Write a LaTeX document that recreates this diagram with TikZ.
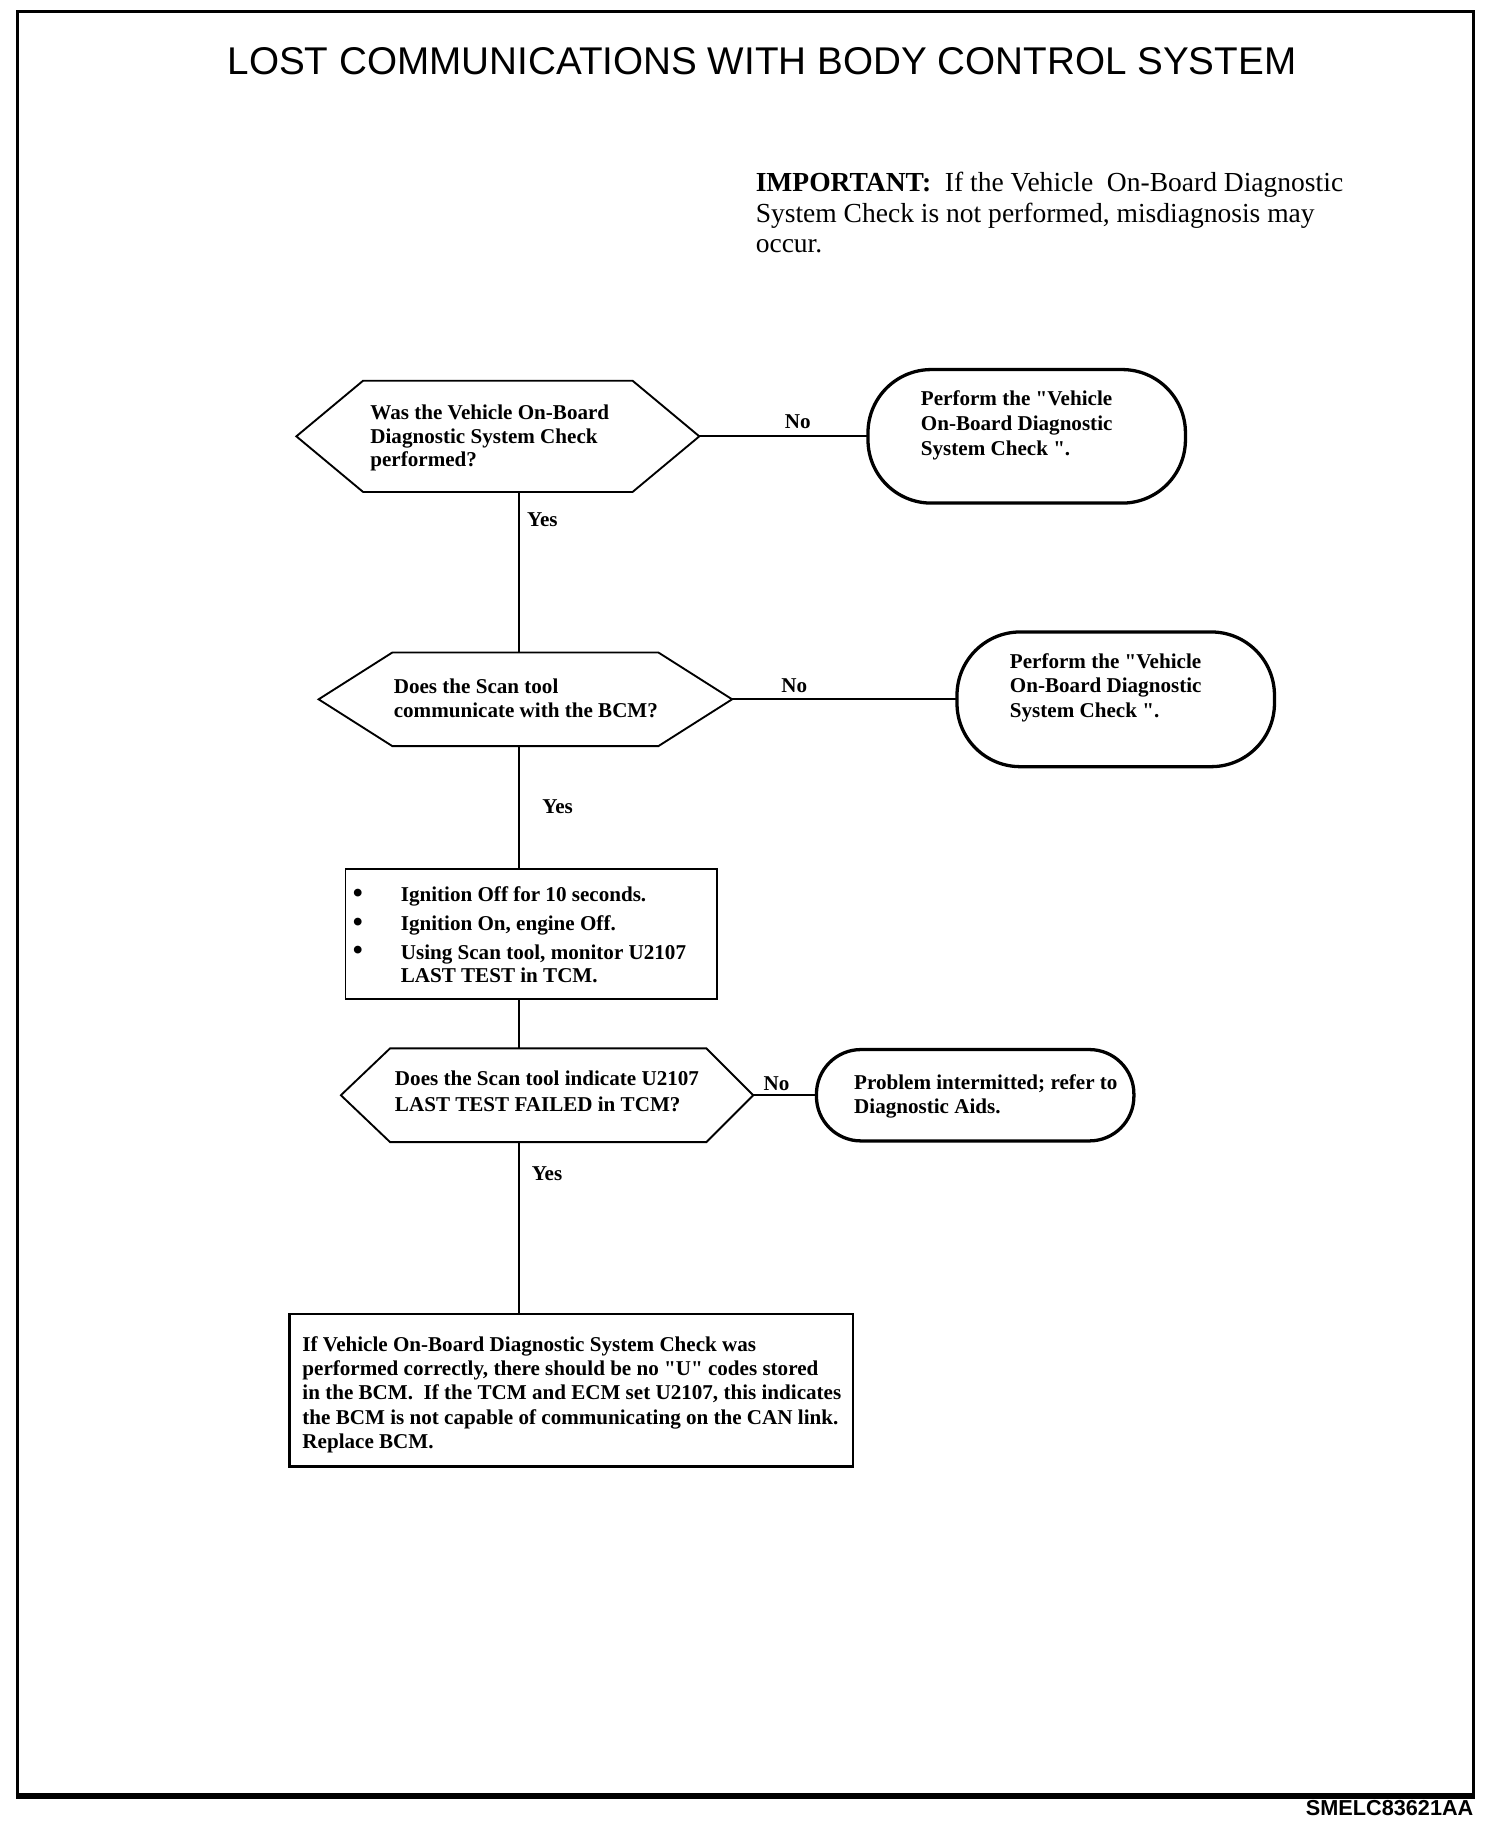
\documentclass[tikz,border=0pt]{standalone}
\usepackage{fontspec}
\setmainfont{Liberation Serif}[Ligatures=TeXOff]
\newfontfamily\arialfont{Liberation Sans}[Ligatures=TeXOff]
\newcommand{\diagfont}{\fontsize{18}{20}\selectfont\bfseries}
\newcommand{\bigbul}{\raisebox{-0.5pt}{\scalebox{1.35}{\textbullet}}}
\begin{document}
\begin{tikzpicture}[x=1pt,y=-1pt,
  hexbox/.style={draw=none, inner sep=0pt, outer sep=0pt},
  hexline/.style={line width=1.6pt, line join=miter},
  termbox/.style={draw, line width=2.8pt, inner sep=0pt, outer sep=0pt},
  procbox/.style={draw, line width=1.6pt, inner sep=0pt, outer sep=0pt},
  conn/.style={line width=1.6pt},
  txt/.style={anchor=north west, inner sep=0pt, align=left, font=\diagfont},
  lbl/.style={anchor=center, inner sep=0pt, font=\diagfont}]
\useasboundingbox (0,0) rectangle (1284,1567.4);
% frame
\draw[line width=3pt] (15,10) rectangle (1258,1533);
\draw[line width=5pt] (13.5,1533) -- (1259.5,1533);
% title and notes
\node[anchor=base, inner sep=0pt, font=\arialfont\fontsize{33}{36}\selectfont] (title) at (650.5,64) {LOST COMMUNICATIONS WITH BODY CONTROL SYSTEM};
\node[anchor=north west, inner sep=0pt, align=left, font=\fontsize{23.5}{26}\selectfont] (important) at (645,147)
  {\textbf{IMPORTANT:}\ \ If the Vehicle\ \ On-Board Diagnostic\\System Check is not performed, misdiagnosis may\\occur.};
\node[anchor=base east, inner sep=0pt, font=\arialfont\bfseries\fontsize{18.5}{20}\selectfont] (code) at (1258,1549.5) {SMELC83621AA};
% spine
\coordinate (spine) at (443,0);
% decision 1
\node[hexbox, minimum width=344pt, minimum height=95pt] (d1) at (425,372.5) {};
\draw[hexline] (d1.west) -- ([xshift=57pt]d1.north west) -- ([xshift=-57pt]d1.north east) -- (d1.east) -- ([xshift=-57pt]d1.south east) -- ([xshift=57pt]d1.south west) -- cycle;
\node[txt] (d1t) at (316,345.6) {Was the Vehicle On-Board\\Diagnostic System Check\\performed?};
\node[termbox, rounded corners=54pt, minimum width=271pt, minimum height=114pt] (t1) at (876.5,372.5) {};
\node[txt, font=\diagfont\fontsize{18}{21}\selectfont] (t1t) at (786,333.6) {Perform the "Vehicle\\On-Board Diagnostic\\System Check ".};
\draw[conn] (d1.east) -- (t1.west);
\node[lbl] (no1) at (681,360) {No};
% decision 2
\node[hexbox, minimum width=353pt, minimum height=80pt] (d2) at (448.5,597) {};
\draw[hexline] (d2.west) -- ([xshift=63pt]d2.north west) -- ([xshift=-63pt]d2.north east) -- (d2.east) -- ([xshift=-63pt]d2.south east) -- ([xshift=63pt]d2.south west) -- cycle;
\node[txt] (d2t) at (336,579.6) {Does the Scan tool\\communicate with the BCM?};
\node[termbox, rounded corners=54pt, minimum width=271pt, minimum height=115pt] (t2) at (952.5,597) {};
\node[txt, font=\diagfont\fontsize{18}{21}\selectfont] (t2t) at (862,557.6) {Perform the "Vehicle\\On-Board Diagnostic\\System Check ".};
\draw[conn] (d2.east) -- (t2.west);
\node[lbl] (no2) at (678,585) {No};
\draw[conn] (d1.south -| spine) -- (d2.north -| spine);
\node[lbl] (yes1) at (463,444) {Yes};
% process box 1
\node[procbox, minimum width=317pt, minimum height=111pt] (b1) at (453.5,797.5) {};
\node[anchor=north west, inner sep=0pt, font=\diagfont] (b1t) at (301,755.6)
  {\renewcommand{\arraystretch}{1}\setlength{\tabcolsep}{0pt}%
   \begin{tabular}{@{}p{41pt}l@{}}
   \bigbul & Ignition Off for 10 seconds.\\[4.5pt]
   \bigbul & Ignition On, engine Off.\\[4.5pt]
   \bigbul & Using Scan tool, monitor U2107\\
               & LAST TEST in TCM.
   \end{tabular}};
\draw[conn] (d2.south -| spine) -- (b1.north -| spine);
\node[lbl] (yes2) at (476,689) {Yes};
% decision 3
\node[hexbox, minimum width=352pt, minimum height=80pt] (d3) at (467,935) {};
\draw[hexline] (d3.west) -- ([xshift=42pt]d3.north west) -- ([xshift=-40pt]d3.north east) -- (d3.east) -- ([xshift=-40pt]d3.south east) -- ([xshift=42pt]d3.south west) -- cycle;
\node[txt, font=\diagfont\fontsize{18}{23}\selectfont] (d3t) at (337,913.6) {Does the Scan tool indicate U2107\\LAST TEST FAILED in TCM?};
\draw[conn] (b1.south -| spine) -- (d3.north -| spine);
\node[termbox, rounded corners=38pt, minimum width=271pt, minimum height=78pt] (t3) at (832.5,935) {};
\node[txt] (t3t) at (729,917.6) {Problem intermitted; refer to\\Diagnostic Aids.};
\draw[conn] (d3.east) -- (t3.west);
\node[lbl] (no3) at (663,925) {No};
% process box 2
\node[procbox, line width=2pt, minimum width=481pt, minimum height=130pt] (b2) at (487.5,1187) {};
\node[txt, font=\diagfont\fontsize{18}{20.75}\selectfont] (b2t) at (258,1140.6)
  {If Vehicle On-Board Diagnostic System Check was\\performed correctly, there should be no "U" codes stored\\in the BCM.\ \ If the TCM and ECM set U2107, this indicates\\the BCM is not capable of communicating on the CAN link.\\Replace BCM.};
\draw[conn] (d3.south -| spine) -- (b2.north -| spine);
\node[lbl] (yes3) at (467,1002) {Yes};
\end{tikzpicture}
\end{document}
